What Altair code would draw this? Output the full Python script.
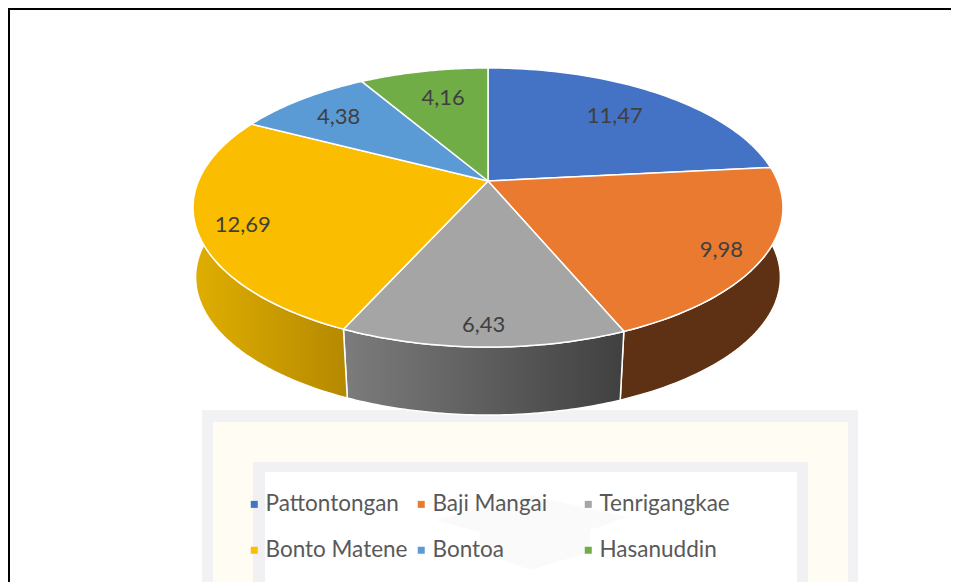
import numpy as np
import pandas as pd
import altair as alt

names = ["Pattontongan", "Baji Mangai", "Tenrigangkae", "Bonto Matene", "Bontoa", "Hasanuddin"]
values = [11.47, 9.98, 6.43, 12.69, 4.38, 4.16]
labels = ["11,47", "9,98", "6,43", "12,69", "4,38", "4,16"]
top_colors = ["#4472C4", "#E97A30", "#A5A5A5", "#FBBD00", "#5B9BD5", "#70AD47"]
label_radius = [0.72, 0.87, 0.89, 0.855, 0.77, 0.72]
label_shift = [0.0, 0.03, 0.0, -0.035, -0.015, 0.02]

# perspective of the tilted disc
CX, CY, A, B, K = 488.0, 181.0, 289.6, 134.5, 0.19
LOW_Y, LOW_S, LOW_K = 253.8, 0.995, 0.17

def project(theta, r=1.0, s=1.0, cy=CY, k=K):
    u, v = r * np.sin(theta), r * np.cos(theta)
    w = 1 + k * v
    return CX + s * A * u / w, cy - s * B * v / w

cum = np.concatenate([[0], np.cumsum(values)]) / np.sum(values) * 2 * np.pi

top_rows, wall_rows, label_rows = [], [], []
for n, name in enumerate(names):
    t = np.linspace(cum[n], cum[n + 1], 60)
    xs, ys = project(t)
    pts = [(CX, CY)] + list(zip(xs, ys)) + [(CX, CY)]
    for i, (x, y) in enumerate(pts):
        top_rows.append(dict(name=name, i=i, x=float(x), y=float(y)))
    lx, ly = project(t)
    bx, by = project(t, s=LOW_S, cy=LOW_Y, k=LOW_K)
    wpts = list(zip(lx, ly)) + list(zip(bx[::-1], by[::-1])) + [(lx[0], ly[0])]
    for i, (x, y) in enumerate(wpts):
        wall_rows.append(dict(name=name, i=i, x=float(x), y=float(y)))
    mx, my = project((cum[n] + cum[n + 1]) / 2 + label_shift[n], r=label_radius[n])
    label_rows.append(dict(name=name, text=labels[n], x=float(mx), y=float(my)))

top_df = pd.DataFrame(top_rows)
wall_df = pd.DataFrame(wall_rows)
label_df = pd.DataFrame(label_rows)

xs_scale = alt.Scale(domain=[8, 951], nice=False, zero=False)
ys_scale = alt.Scale(domain=[582, 8], nice=False, zero=False)
X = alt.X("x:Q", scale=xs_scale, axis=None)
Y = alt.Y("y:Q", scale=ys_scale, axis=None)

# watermark behind the legend
wm = pd.DataFrame([
    dict(x=202, x2=858, y=410, y2=582, c="#F2F2F4"),
    dict(x=213, x2=848, y=422, y2=582, c="#FFFDF3"),
    dict(x=253, x2=808, y=462, y2=582, c="#F1F1F3"),
    dict(x=265, x2=797, y=472, y2=582, c="#FFFFFF"),
])
wm_layer = alt.Chart(wm).mark_rect().encode(
    x=X, x2="x2:Q", y=Y, y2="y2:Q", fill=alt.Fill("c:N", scale=None), order=alt.Order("x:Q"))

hat = pd.DataFrame([
    dict(i=0, x=435, y=520), dict(i=1, x=530, y=495), dict(i=2, x=628, y=517),
    dict(i=3, x=590, y=530), dict(i=4, x=590, y=552), dict(i=5, x=530, y=570),
    dict(i=6, x=480, y=552), dict(i=7, x=480, y=532), dict(i=8, x=435, y=520),
])
hat_layer = alt.Chart(hat).mark_line(fill="#FAFAFA", stroke="#FAFAFA", strokeWidth=0).encode(
    x=X, y=Y, order=alt.Order("i:Q"))

def wall(name, fill):
    return alt.Chart(wall_df[wall_df.name == name]).mark_line(
        fill=fill, stroke="white", strokeWidth=1.5, strokeJoin="round"
    ).encode(x=X, y=Y, order=alt.Order("i:Q"))

def grad(c1, c2):
    return alt.Gradient(gradient="linear", x1=0, x2=1, y1=0, y2=0,
                        stops=[alt.GradientStop(color=c1, offset=0), alt.GradientStop(color=c2, offset=1)])

walls = [
    wall("Baji Mangai", "#5E3014"),
    wall("Tenrigangkae", grad("#7C7C7C", "#404040")),
    wall("Bonto Matene", grad("#E0AE00", "#B58900")),
]

top_layer = alt.Chart(top_df).mark_line(stroke="white", strokeWidth=1.5, strokeJoin="round").encode(
    x=X, y=Y, order=alt.Order("i:Q"),
    fill=alt.Fill("name:N", scale=alt.Scale(domain=names, range=top_colors),
                  legend=alt.Legend(
                      title=None, orient="none", legendX=235, legendY=485, columns=3,
                      direction="horizontal", symbolType="square", symbolSize=49,
                      symbolStrokeWidth=0, labelFont="Lato", labelFontSize=22.5,
                      labelColor="#595959", labelOffset=0, columnPadding=2, rowPadding=23,
                      labelLimit=300, gridAlign="all")),
)

text_layer = alt.Chart(label_df).mark_text(font="Lato", fontSize=22, color="#404040").encode(
    x=X, y=Y, text="text:N")

frame = pd.DataFrame([dict(x=8, x2=10, y=8, y2=582), dict(x=8, x2=951, y=8, y2=10)])
frame_layer = alt.Chart(frame).mark_rect(color="black").encode(x=X, x2="x2:Q", y=Y, y2="y2:Q")

chart = alt.layer(wm_layer, hat_layer, *walls, top_layer, text_layer, frame_layer).properties(
    width=943, height=574, padding=0, background="white",
    autosize=alt.AutoSizeParams(type="none"),
).configure_view(stroke=None)

chart.save("out.html", embed_options={"renderer": "svg", "actions": False})
